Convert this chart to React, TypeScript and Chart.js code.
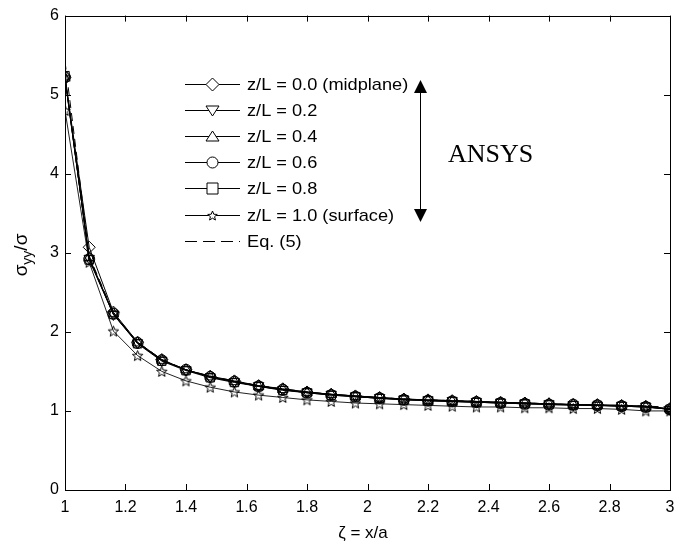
import React, { useEffect, useRef } from 'react';
import { Chart, registerables } from 'chart.js';
Chart.register(...registerables);

const zeta = [1.0, 1.08, 1.16, 1.24, 1.32, 1.4, 1.48, 1.56, 1.64, 1.72, 1.8, 1.88, 1.96, 2.04, 2.12, 2.2, 2.28, 2.36, 2.44, 2.52, 2.6, 2.68, 2.76, 2.84, 2.92, 3.0];

const zL00 = [5.22, 3.07, 2.25, 1.87, 1.65, 1.52, 1.44, 1.38, 1.32, 1.28, 1.24, 1.21, 1.19, 1.17, 1.15, 1.14, 1.13, 1.12, 1.11, 1.10, 1.09, 1.08, 1.08, 1.07, 1.06, 1.03];
const zL02 = [5.20, 2.93, 2.22, 1.86, 1.64, 1.52, 1.43, 1.37, 1.32, 1.27, 1.24, 1.21, 1.19, 1.17, 1.15, 1.14, 1.13, 1.12, 1.11, 1.10, 1.09, 1.08, 1.07, 1.07, 1.06, 1.02];
const zL04 = [5.21, 2.94, 2.23, 1.86, 1.64, 1.52, 1.43, 1.37, 1.31, 1.27, 1.23, 1.21, 1.18, 1.16, 1.15, 1.13, 1.12, 1.11, 1.10, 1.10, 1.09, 1.08, 1.07, 1.06, 1.05, 1.02];
const zL06 = [5.22, 2.92, 2.23, 1.86, 1.64, 1.52, 1.43, 1.37, 1.31, 1.27, 1.23, 1.20, 1.18, 1.16, 1.14, 1.13, 1.12, 1.11, 1.10, 1.09, 1.08, 1.08, 1.07, 1.06, 1.05, 1.02];
const zL08 = [5.24, 2.91, 2.22, 1.85, 1.63, 1.51, 1.42, 1.36, 1.31, 1.26, 1.23, 1.20, 1.18, 1.16, 1.14, 1.13, 1.12, 1.11, 1.10, 1.09, 1.08, 1.07, 1.07, 1.06, 1.05, 1.02];
const zL10 = [4.80, 2.88, 2.01, 1.70, 1.50, 1.38, 1.30, 1.24, 1.20, 1.17, 1.14, 1.12, 1.10, 1.09, 1.08, 1.07, 1.06, 1.05, 1.05, 1.04, 1.04, 1.03, 1.03, 1.02, 1.00, 1.00];

const eqZeta = [1.0, 1.08, 1.16, 1.24, 1.32, 1.4, 1.48, 1.56, 1.64, 1.72, 1.8, 1.88, 1.96, 2.04, 2.12, 2.2, 2.28, 2.36, 2.44, 2.52, 2.6, 2.68, 2.76, 2.84, 2.92, 3.0];
const eq5 = [5.42, 2.96, 2.24, 1.87, 1.65, 1.52, 1.44, 1.38, 1.32, 1.28, 1.24, 1.21, 1.19, 1.17, 1.15, 1.14, 1.13, 1.12, 1.11, 1.10, 1.09, 1.08, 1.07, 1.07, 1.06, 1.05];

const xTicks = [1, 1.2, 1.4, 1.6, 1.8, 2, 2.2, 2.4, 2.6, 2.8, 3];
const xTickLabels = ['1', '1.2', '1.4', '1.6', '1.8', '2', '2.2', '2.4', '2.6', '2.8', '3'];
const yTicks = [0, 1, 2, 3, 4, 5, 6];

const legendLabels = ['z/L = 0.0 (midplane)', 'z/L = 0.2', 'z/L = 0.4', 'z/L = 0.6', 'z/L = 0.8', 'z/L = 1.0 (surface)', 'Eq. (5)'];

const SANS = '"Liberation Sans", Arial, sans-serif';
const SERIF = '"Liberation Serif", "Times New Roman", serif';

function starPath(ctx: CanvasRenderingContext2D, cx: number, cy: number, R: number, r: number) {
  ctx.beginPath();
  for (let i = 0; i < 10; i++) {
    const rad = i % 2 === 0 ? R : r;
    const a = -Math.PI / 2 + (i * Math.PI) / 5;
    const px = cx + rad * Math.cos(a);
    const py = cy + rad * Math.sin(a);
    if (i === 0) ctx.moveTo(px, py);
    else ctx.lineTo(px, py);
  }
  ctx.closePath();
}

function makeStar(): HTMLCanvasElement {
  const c = document.createElement('canvas');
  c.width = 13;
  c.height = 13;
  const g = c.getContext('2d')!;
  g.strokeStyle = '#000';
  g.lineWidth = 1;
  starPath(g, 6.5, 7, 5.5, 2.4);
  g.stroke();
  return c;
}

function drawMarker(ctx: CanvasRenderingContext2D, kind: string, x: number, y: number) {
  const r = 5.5;
  ctx.beginPath();
  if (kind === 'diamond') {
    ctx.moveTo(x, y - r - 1); ctx.lineTo(x + r + 1, y); ctx.lineTo(x, y + r + 1); ctx.lineTo(x - r - 1, y); ctx.closePath();
  } else if (kind === 'down') {
    ctx.moveTo(x - r - 1, y - r + 1); ctx.lineTo(x + r + 1, y - r + 1); ctx.lineTo(x, y + r); ctx.closePath();
  } else if (kind === 'up') {
    ctx.moveTo(x - r - 1, y + r - 1); ctx.lineTo(x + r + 1, y + r - 1); ctx.lineTo(x, y - r); ctx.closePath();
  } else if (kind === 'circle') {
    ctx.arc(x, y, r, 0, Math.PI * 2);
  } else if (kind === 'square') {
    ctx.rect(x - r, y - r, 2 * r, 2 * r);
  } else if (kind === 'star') {
    starPath(ctx, x, y + 0.5, 5, 2.2);
  }
  ctx.fillStyle = '#fff';
  ctx.fill();
  ctx.stroke();
}

const markerKinds = ['diamond', 'down', 'up', 'circle', 'square', 'star', 'none'];

const framePlugin = {
  id: 'frame',
  afterDraw(chart: any) {
    const { ctx, chartArea } = chart;
    const { left, right, top, bottom } = chartArea;
    const xs = chart.scales.x;
    const ys = chart.scales.y;
    ctx.save();
    ctx.strokeStyle = '#000';
    ctx.lineWidth = 1;
    ctx.strokeRect(Math.round(left) + 0.5, Math.round(top) + 0.5, Math.round(right - left), Math.round(bottom - top));
    const tl = 6;
    ctx.beginPath();
    xTicks.forEach((v) => {
      const px = Math.round(xs.getPixelForValue(v)) + 0.5;
      ctx.moveTo(px, bottom); ctx.lineTo(px, bottom - tl);
      ctx.moveTo(px, top); ctx.lineTo(px, top + tl);
    });
    yTicks.forEach((v) => {
      const py = Math.round(ys.getPixelForValue(v)) + 0.5;
      ctx.moveTo(left, py); ctx.lineTo(left + tl, py);
      ctx.moveTo(right, py); ctx.lineTo(right - tl, py);
    });
    ctx.stroke();

    // legend
    const lx0 = 185, lx1 = 240, ly0 = 83.5, dy = 26.2;
    ctx.textBaseline = 'middle';
    ctx.textAlign = 'left';
    legendLabels.forEach((lab, i) => {
      const y = Math.round(ly0 + i * dy) + 0.5;
      ctx.beginPath();
      ctx.strokeStyle = '#000';
      ctx.lineWidth = 1;
      if (markerKinds[i] === 'none') ctx.setLineDash([12, 6]);
      ctx.moveTo(lx0, y); ctx.lineTo(lx1, y);
      ctx.stroke();
      ctx.setLineDash([]);
      if (markerKinds[i] !== 'none') drawMarker(ctx, markerKinds[i], (lx0 + lx1) / 2, y);
      ctx.fillStyle = '#000';
      ctx.save();
      ctx.translate(247, y + 1);
      ctx.scale(1.07, 1);
      ctx.font = `17px ${SANS}`;
      ctx.fillText(lab, 0, 0);
      ctx.restore();
    });

    // arrow
    const ax = 420.5, ay0 = 80, ay1 = 222;
    ctx.beginPath();
    ctx.moveTo(ax, ay0 + 10); ctx.lineTo(ax, ay1 - 10);
    ctx.stroke();
    ctx.fillStyle = '#000';
    ctx.beginPath();
    ctx.moveTo(ax, ay0); ctx.lineTo(ax - 6.5, ay0 + 13); ctx.lineTo(ax + 6.5, ay0 + 13); ctx.closePath(); ctx.fill();
    ctx.beginPath();
    ctx.moveTo(ax, ay1); ctx.lineTo(ax - 6.5, ay1 - 13); ctx.lineTo(ax + 6.5, ay1 - 13); ctx.closePath(); ctx.fill();

    ctx.font = `26px ${SERIF}`;
    ctx.textAlign = 'left';
    ctx.textBaseline = 'alphabetic';
    ctx.fillText('ANSYS', 448, 162);

    // x title
    ctx.font = `17px ${SANS}`;
    ctx.textAlign = 'center';
    ctx.textBaseline = 'middle';
    ctx.fillText('ζ = x/a', 363, 533);

    // y title (rotated, with subscript)
    ctx.save();
    ctx.translate(22, 255);
    ctx.rotate(-Math.PI / 2);
    const f1 = `19px ${SANS}`;
    const f2 = `14px ${SANS}`;
    ctx.textAlign = 'left';
    ctx.textBaseline = 'alphabetic';
    ctx.font = f1; const w1 = ctx.measureText('σ').width;
    ctx.font = f2; const w2 = ctx.measureText('yy').width;
    ctx.font = f1; const w3 = ctx.measureText('/σ').width;
    let cx = -(w1 + w2 + w3) / 2;
    ctx.font = f1; ctx.fillText('σ', cx, 5); cx += w1;
    ctx.font = f2; ctx.fillText('yy', cx, 10); cx += w2;
    ctx.font = f1; ctx.fillText('/σ', cx, 5);
    ctx.restore();

    ctx.restore();
  },
};

export default function App() {
  const ref = useRef<HTMLCanvasElement | null>(null);
  useEffect(() => {
    document.body.style.margin = '0';
    const star = makeStar();
    const mk = (vals: number[], xs: number[]) => xs.map((x, i) => ({ x, y: vals[i] }));
    const base = {
      borderColor: '#000',
      borderWidth: 1,
      pointBorderColor: '#000',
      pointBackgroundColor: 'rgba(0,0,0,0)',
      pointBorderWidth: 1,
      pointRadius: 5,
      fill: false,
      tension: 0,
    };
    const chart = new Chart(ref.current!, {
      type: 'line',
      data: {
        datasets: [
          { ...base, label: legendLabels[0], data: mk(zL00, zeta), pointStyle: 'rectRot', pointRadius: 6 },
          { ...base, label: legendLabels[1], data: mk(zL02, zeta), pointStyle: 'triangle', pointRotation: 180, pointRadius: 6 },
          { ...base, label: legendLabels[2], data: mk(zL04, zeta), pointStyle: 'triangle', pointRadius: 6 },
          { ...base, label: legendLabels[3], data: mk(zL06, zeta), pointStyle: 'circle', pointRadius: 5.5 },
          { ...base, label: legendLabels[4], data: mk(zL08, zeta), pointStyle: 'rect', pointRadius: 6 },
          { ...base, label: legendLabels[5], data: mk(zL10, zeta), pointStyle: star as any, borderColor: '#222' },
          { ...base, label: legendLabels[6], data: mk(eq5, eqZeta), pointRadius: 0, borderDash: [8, 5] },
        ] as any,
      },
      options: {
        animation: false,
        responsive: false,
        maintainAspectRatio: false,
        layout: { padding: { top: 15, right: 19, left: 0, bottom: 0 } },
        plugins: { legend: { display: false }, tooltip: { enabled: false }, title: { display: false } },
        scales: {
          x: {
            type: 'linear',
            min: 1,
            max: 3,
            grid: { display: false, drawTicks: false },
            border: { display: false },
            afterBuildTicks: (s: any) => { s.ticks = xTicks.map((v) => ({ value: v })); },
            afterFit: (s: any) => { s.height = 58; },
            ticks: {
              color: '#000',
              padding: 8,
              maxRotation: 0,
              autoSkip: false,
              font: { size: 16, family: SANS },
              callback: (v: any) => { const i = xTicks.indexOf(Number(v)); return i >= 0 ? xTickLabels[i] : ''; },
            },
          },
          y: {
            type: 'linear',
            min: 0,
            max: 6,
            grid: { display: false, drawTicks: false },
            border: { display: false },
            afterBuildTicks: (s: any) => { s.ticks = yTicks.map((v) => ({ value: v })); },
            afterFit: (s: any) => { s.width = 65; },
            ticks: {
              color: '#000',
              padding: 6,
              autoSkip: false,
              font: { size: 16, family: SANS },
              callback: (v: any) => String(v),
            },
          },
        },
      } as any,
      plugins: [framePlugin],
    });
    return () => chart.destroy();
  }, []);
  return (
    <div style={{ width: 689, height: 548, background: '#fff' }}>
      <canvas ref={ref} width={689} height={548} style={{ display: 'block', width: 689, height: 548 }} />
    </div>
  );
}
